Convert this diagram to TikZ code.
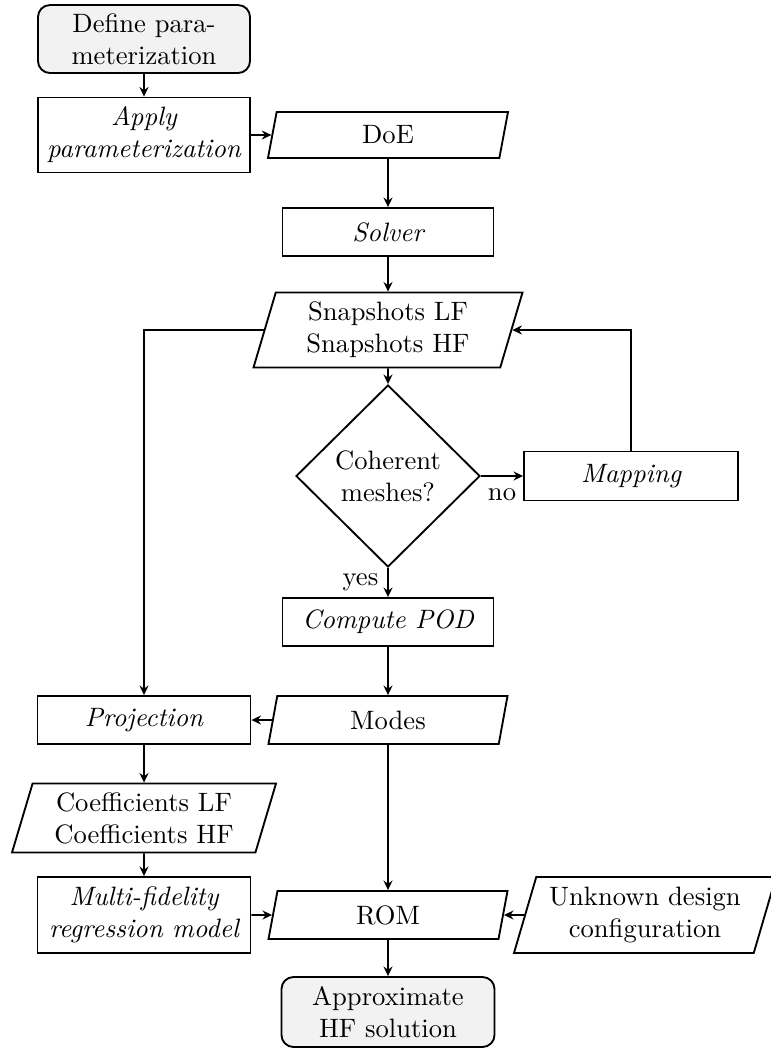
\documentclass[tikz,border=0pt]{standalone}
\usetikzlibrary{shapes.geometric,arrows.meta}
\def\pxu{0.376pt}
\begin{document}
\begin{tikzpicture}[x=0.376pt,y=-0.376pt,
  sz/.style 2 args={minimum width=#1*\pxu, minimum height=#2*\pxu},
  base/.style={draw, line width=0.7pt, align=center, inner sep=1pt},
  proc/.style={base, rectangle},
  io/.style={base, trapezium, trapezium left angle=70, trapezium right angle=110, trapezium stretches body},
  term/.style={base, rectangle, rounded corners=4.5pt, fill=black!5},
  decision/.style={base, diamond, aspect=1, inner sep=0pt},
  arr/.style={line width=0.7pt, -{Stealth[length=3.6pt,width=3.4pt,inset=1.2pt]}}]
\useasboundingbox (0,0) rectangle (771,1051);

\node[term, sz={212}{68}] (def) at (144,39) {Define para-\\meterization};
\node[proc, sz={212}{75}] (app) at (144,135) {\itshape Apply\\\itshape parameterization};
\node[io, sz={240}{46}] (doe) at (388,135) {DoE};
\node[proc, sz={211}{48}] (sol) at (388,232) {\itshape Solver};
\node[io, sz={269}{75}] (snap) at (388,330) {Snapshots LF\\Snapshots HF};
\node[decision, sz={184}{182}] (dec) at (388,476) {Coherent\\meshes?};
\node[proc, sz={214}{49}] (map) at (631,476) {\itshape Mapping};
\node[proc, sz={211}{48}] (pod) at (388,622) {\itshape Compute POD};
\node[io, sz={239}{48}] (modes) at (388,720) {Modes};
\node[proc, sz={213}{48}] (proj) at (144,720) {\itshape Projection};
\node[io, sz={264}{69}] (coef) at (144,818) {Coefficients LF\\Coefficients HF};
\node[proc, sz={213}{76}] (mf) at (144,915) {\itshape Multi-fidelity\\\itshape regression model};
\node[io, sz={239}{48}] (rom) at (388,915) {ROM};
\node[io, sz={262}{76}] (unk) at (645,915) {Unknown design\\configuration};
\node[term, sz={213}{70}] (apx) at (388,1012) {Approximate\\HF solution};

\draw[arr] (def) -- (app);
\draw[arr] (app) -- (doe);
\draw[arr] (doe) -- (sol);
\draw[arr] (sol) -- (snap);
\draw[arr] (snap) -- (dec);
\draw[arr] (dec) -- node[below=1pt] {no} (map);
\draw[arr] (map.north) |- (snap.east);
\draw[arr] (dec) -- node[left] {yes} (pod);
\draw[arr] (pod) -- (modes);
\draw[arr] (snap.west) -| (proj.north);
\draw[arr] (modes) -- (proj);
\draw[arr] (proj) -- (coef);
\draw[arr] (coef) -- (mf);
\draw[arr] (mf) -- (rom);
\draw[arr] (modes) -- (rom);
\draw[arr] (unk) -- (rom);
\draw[arr] (rom) -- (apx);
\end{tikzpicture}
\end{document}
